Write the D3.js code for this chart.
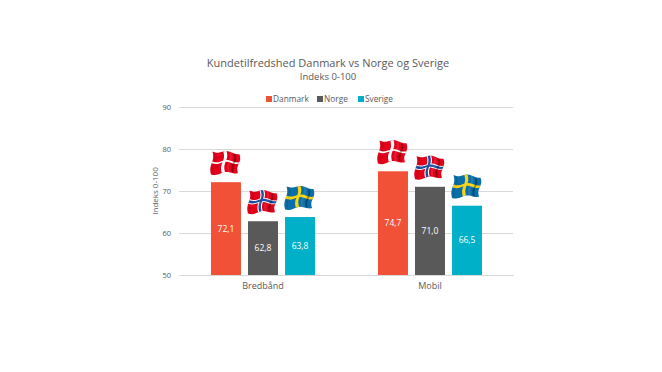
<!DOCTYPE html>
<html lang="en">
<head>
<meta charset="UTF-8">
<title>Kundetilfredshed</title>
<script src="https://d3js.org/d3.v7.min.js"></script>
<style>
    html, body { margin: 0; padding: 0; background: #fff; }
    svg { display: block; }
    text { font-family: "Open Sans", sans-serif; fill: #595959; }
</style>
</head>
<body>
<script>
// Data
const categories = ["Bredbånd", "Mobil"];
const seriesNames = ["Danmark", "Norge", "Sverige"];
const danmark = [72.1, 74.7];
const norge = [62.8, 71.0];
const sverige = [63.8, 66.5];
const yTicks = [50, 60, 70, 80, 90];
const colors = ["#f05137", "#595959", "#00b0c8"];
const title = "Kundetilfredshed Danmark vs Norge og Sverige";
const subtitle = "Indeks 0-100";
const yTitle = "Indeks 0-100";

const values = [danmark, norge, sverige];
const fmt = v => v.toFixed(1).replace(".", ",");

const width = 662, height = 372;
const margin = { left: 179, right: 513, top: 107, bottom: 275 };

const svg = d3.select("body").append("svg")
    .attr("width", width)
    .attr("height", height);

const x0 = d3.scaleBand().domain(categories).range([margin.left + 0.5, margin.right + 0.5]).padding(0);
const x1 = d3.scaleBand().domain(seriesNames).range([0, x0.bandwidth()]).paddingInner(0.19).paddingOuter(0.85);
const y = d3.scaleLinear().domain([50, 90]).range([margin.bottom, margin.top]);

// grid lines and y axis
const yAxis = d3.axisLeft(y).tickValues(yTicks).tickSize(-(margin.right - margin.left)).tickPadding(8);
const yG = svg.append("g").attr("transform", `translate(${margin.left},0)`).call(yAxis);
yG.select(".domain").remove();
yG.selectAll(".tick line").attr("stroke", "#d9d9d9").attr("stroke-width", 1);
yG.selectAll(".tick text").attr("font-size", 7.5).style("font-family", '"Open Sans", sans-serif').attr("fill", "#595959");

// x axis labels
const xAxis = d3.axisBottom(x0).tickSize(0).tickPadding(8);
const xG = svg.append("g").attr("transform", `translate(0,${margin.bottom})`).call(xAxis);
xG.select(".domain").attr("stroke", "#d9d9d9");
xG.selectAll(".tick text").attr("font-size", 9).style("font-family", '"Open Sans", sans-serif').attr("fill", "#595959");

// bars
seriesNames.forEach((name, s) => {
    const g = svg.append("g");
    g.selectAll("rect")
        .data(categories.map((c, i) => ({ c, v: values[s][i] })))
        .join("rect")
        .attr("x", d => x0(d.c) + x1(name))
        .attr("width", x1.bandwidth())
        .attr("y", d => y(d.v))
        .attr("height", d => y(50) - y(d.v))
        .attr("fill", colors[s]);
    g.selectAll("text")
        .data(categories.map((c, i) => ({ c, v: values[s][i] })))
        .join("text")
        .attr("x", d => x0(d.c) + x1(name) + x1.bandwidth() / 2)
        .attr("y", d => (y(d.v) + y(50)) / 2 + 3)
        .attr("text-anchor", "middle")
        .attr("font-size", 8.5)
        .style("fill", "#fff")
        .text(d => fmt(d.v));
});

// waving flags above the bars
const flagDefs = {
    Danmark: { bg: "#e2001a", cross: [["#fff", 0.12, 0.08]] },
    Norge: { bg: "#e2001a", cross: [["#fff", 0.17, 0.2], ["#1f4fa3", 0.09, 0.11]] },
    Sverige: { bg: "#0a6ea8", cross: [["#f7d417", 0.12, 0.13]] }
};
const flagW = 27, flagH = 23;
const warp = (u, v) => [
    u * flagW + 1.1 * Math.sin(v * Math.PI * 2) - v * 1.5,
    v * flagH + 1.2 * Math.sin(u * Math.PI * 2.6 + 0.3) + u * 2 - v * u * 4
];
const warpLine = d3.line();
function patch(u0, u1, v0, v1) {
    const pts = [];
    const n = 14;
    for (let i = 0; i <= n; i++) pts.push(warp(u0 + (u1 - u0) * i / n, v0));
    for (let i = 0; i <= n; i++) pts.push(warp(u1, v0 + (v1 - v0) * i / n));
    for (let i = 0; i <= n; i++) pts.push(warp(u1 - (u1 - u0) * i / n, v1));
    for (let i = 0; i <= n; i++) pts.push(warp(u0, v1 - (v1 - v0) * i / n));
    return warpLine(pts) + "Z";
}
seriesNames.forEach((name, s) => {
    const def = flagDefs[name];
    categories.forEach((c, i) => {
        const barX = x0(c) + x1(name);
        const g = svg.append("g")
            .attr("transform", `translate(${barX + 1.5},${y(values[s][i]) - 6 - flagH - 2})`);
        g.append("path").attr("d", patch(0, 1, 0, 1)).attr("fill", def.bg);
        def.cross.forEach(([col, du, dv]) => {
            g.append("path").attr("d", patch(0.46 - du / 2, 0.46 + du / 2, 0, 1)).attr("fill", col);
            g.append("path").attr("d", patch(0, 1, 0.47 - dv / 2, 0.47 + dv / 2)).attr("fill", col);
        });
        // fold shading
        g.append("path").attr("d", patch(0.78, 0.85, 0.05, 0.95)).attr("fill", "#000").attr("opacity", 0.35);
        g.append("path").attr("d", patch(0.05, 0.13, 0, 1)).attr("fill", "#000").attr("opacity", 0.08);
        g.append("path").attr("d", patch(0.62, 0.7, 0, 1)).attr("fill", "#fff").attr("opacity", 0.1);
    });
});

// titles
svg.append("text").attr("x", 328).attr("y", 67).attr("text-anchor", "middle")
    .attr("font-size", 11).text(title);
svg.append("text").attr("x", 328).attr("y", 80).attr("text-anchor", "middle")
    .attr("font-size", 9.5).text(subtitle);

// y axis title
svg.append("text")
    .attr("transform", "translate(158,191) rotate(-90)")
    .attr("text-anchor", "middle")
    .attr("font-size", 8)
    .text(yTitle);

// legend
const legendX = d3.scaleOrdinal().domain(seriesNames).range([266, 317, 358]);
const legend = svg.append("g").selectAll("g").data(seriesNames).join("g")
    .attr("transform", d => `translate(${legendX(d)},96)`);
legend.append("rect").attr("width", 6).attr("height", 6).attr("fill", (d, i) => colors[i]);
legend.append("text").attr("x", 7).attr("y", 6).attr("font-size", 8.3).text(d => d);
</script>
</body>
</html>
